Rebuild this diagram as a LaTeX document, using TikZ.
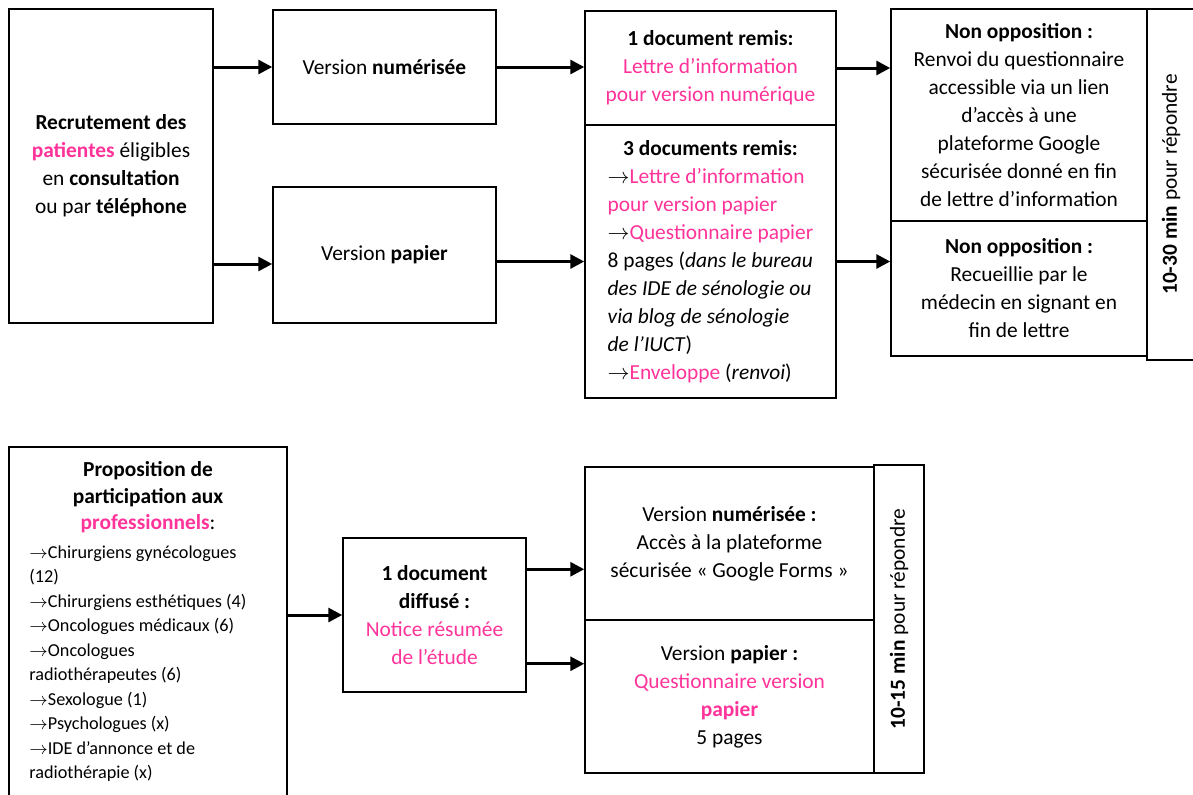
\documentclass[tikz,border=0pt]{standalone}
\usepackage{fontspec}
\setmainfont{Carlito}
\usetikzlibrary{arrows.meta}
\definecolor{rose}{RGB}{255,51,153}
\newcommand{\rose}[1]{\textcolor{rose}{#1}}
\newcommand{\fl}{$\rightarrow$}

\begin{document}
\begin{tikzpicture}[x=0.5pt,y=-0.5pt,
    font=\fontsize{10.7}{14}\selectfont,
    boite/.style 2 args={draw,line width=0.75pt,inner sep=0pt,
      minimum width=#1*0.5pt,minimum height=#2*0.5pt,align=center},
    texte/.style={inner sep=0pt,align=center},
    fleche/.style={line width=1.5pt,-{Triangle[length=7pt,width=7pt]}}]
  \useasboundingbox (0,0) rectangle (1193,794);
  \clip (0,0) rectangle (1193,794);

  \node[boite={204}{314}] (recrut) at (111,166)
    {\textbf{Recrutement des}\\ \rose{\textbf{patientes}} éligibles\\
     en \textbf{consultation}\\ ou par \textbf{téléphone}};
  \node[boite={223}{114}] (numer) at (384.5,67) {Version \textbf{numérisée}};
  \node[boite={223}{136}] (papier) at (384.5,255) {Version \textbf{papier}};
  \node[boite={251}{114}] (docnum) at (710.5,68)
    {\textbf{1 document remis:}\\ \rose{Lettre d’information}\\ \rose{pour version numérique}};
  \node[boite={251}{273}] (docpap) at (710.5,261.5)
    {\begin{tabular}{@{}l@{}}
      \multicolumn{1}{@{}c@{}}{\textbf{3 documents remis:}}\\
      \fl\rose{Lettre d’information}\\
      \rose{pour version papier}\\
      \fl\rose{Questionnaire papier}\\
      8 pages (\textit{dans le bureau}\\
      \textit{des IDE de sénologie ou}\\
      \textit{via blog de sénologie}\\
      \textit{de l’IUCT})\\
      \fl\rose{Enveloppe} (\textit{renvoi})
    \end{tabular}};
  \node[boite={256}{212}] (nonopp) at (1019,115)
    {\textbf{Non opposition :}\\ Renvoi du questionnaire\\ accessible via un lien\\
     d’accès à une\\ plateforme Google\\ sécurisée donné en fin\\ de lettre d’information};
  \node[boite={256}{135}] (recueil) at (1019,288.5)
    {\textbf{Non opposition :}\\ Recueillie par le\\ médecin en signant en\\ fin de lettre};
  \node[boite={351}{48},rotate=90] (delai) at (1171,184.5)
    {\textbf{10-30 min} pour répondre};

  \node[boite={278}{353}] (propo) at (148,623.5) {};
  \node[texte,font=\fontsize{10.7}{13.25}\selectfont] (protitre) at (148,497.5)
    {\textbf{Proposition de}\\ \textbf{participation aux}\\ \rose{\textbf{professionnels}}:};
  \node[texte,align=left,anchor=west,font=\fontsize{9.1}{12.25}\selectfont] (proliste) at (29,663.5)
    {\fl Chirurgiens gynécologues\\ (12)\\ \fl Chirurgiens esthétiques (4)\\
     \fl Oncologues médicaux (6)\\ \fl Oncologues\\ radiothérapeutes (6)\\
     \fl Sexologue (1)\\ \fl Psychologues (x)\\ \fl IDE d’annonce et de\\ radiothérapie (x)};
  \node[boite={183}{154}] (diffus) at (434.5,615)
    {\textbf{1 document}\\ \textbf{diffusé :}\\ \rose{Notice résumée}\\ \rose{de l’étude}};
  \node[boite={289}{153}] (formsnum) at (729.5,543.5)
    {Version \textbf{numérisée :}\\ Accès à la plateforme\\ sécurisée « Google Forms »};
  \node[boite={289}{153}] (formpap) at (729.5,696.5)
    {Version \textbf{papier :}\\ \rose{Questionnaire version}\\ \rose{\textbf{papier}}\\ 5 pages};
  \node[boite={308}{50},rotate=90] (delai2) at (899,619)
    {\textbf{10-15 min} pour répondre};

  \coordinate (a2) at ([yshift=-4.5pt]papier.west);
  \coordinate (q1) at ([yshift=-16pt]diffus.north east);
  \coordinate (q2) at ([yshift=14.5pt]diffus.south east);
  \draw[fleche] (recrut.east |- numer.west) -- (numer.west);
  \draw[fleche] (recrut.east |- a2) -- (a2);
  \draw[fleche] (numer.east) -- (numer.east -| docnum.west);
  \draw[fleche] (papier.east |- docpap.west) -- (docpap.west);
  \draw[fleche] (docnum.east) -- (docnum.east -| nonopp.west);
  \draw[fleche] (docpap.east) -- (docpap.east -| recueil.west);
  \draw[fleche] (propo.east |- diffus.west) -- (diffus.west);
  \draw[fleche] (q1) -- (q1 -| formsnum.west);
  \draw[fleche] (q2) -- (q2 -| formpap.west);
\end{tikzpicture}
\end{document}
